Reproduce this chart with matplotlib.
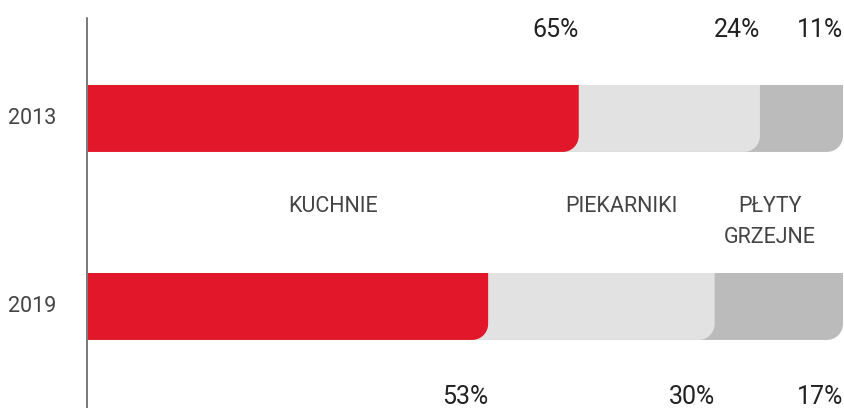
import numpy as np
import matplotlib
matplotlib.use("Agg")
import matplotlib.pyplot as plt
from matplotlib.path import Path
from matplotlib.patches import PathPatch

plt.rcParams['font.family'] = ['Roboto', 'DejaVu Sans']

# data
years = ["2013", "2019"]
categories = ["KUCHNIE", "PIEKARNIKI", "PŁYTY\nGRZEJNE"]
shares = {
    "2013": [65, 24, 11],
    "2019": [53, 30, 17],
}
colors = ["#E3172A", "#E2E2E2", "#BBBBBB"]

# layout (in data units: x = percent, y = bar index)
cat_label_x = [32.5, 70.7, 90.3]
cat_label_y = 0.415
bar_h = 0.356
radius_px = 16

fig = plt.figure(figsize=(8.45, 4.08), dpi=100)
ax = fig.add_axes([88 / 845, 0, 755 / 845, 1])
ax.set_xlim(0, 100)
ax.set_ylim(1.540, -0.630)
ax.axis('off')

# pixel -> data scale for the rounded corner
px_x = 100 / 755.0
px_y = 2.170 / 408.0
rx = radius_px * px_x
ry = radius_px * px_y
k = 0.5523


def rounded_bar(x1, yc, h, color):
    # bar from 0 to x1, only bottom-right corner rounded
    top = yc - h / 2
    bot = yc + h / 2
    verts = [
        (0, top),
        (x1, top),
        (x1, bot - ry),
        (x1, bot - ry + k * ry),
        (x1 - rx + k * rx, bot),
        (x1 - rx, bot),
        (0, bot),
        (0, top),
    ]
    codes = [Path.MOVETO, Path.LINETO, Path.LINETO,
             Path.CURVE4, Path.CURVE4, Path.CURVE4,
             Path.LINETO, Path.CLOSEPOLY]
    ax.add_patch(PathPatch(Path(verts, codes), facecolor=color,
                           edgecolor='none', zorder=2))


for i, yr in enumerate(years):
    vals = shares[yr]
    cum = np.cumsum(vals)
    # draw from the last segment back so each rounded corner overlaps the next
    for j in reversed(range(len(vals))):
        rounded_bar(cum[j], i, bar_h, colors[j])
    # percentage labels, right aligned at the end of each segment
    ty = i - 0.47 if i == 0 else i + 0.48
    for j, v in enumerate(vals):
        ax.text(cum[j], ty, f"{v}%", ha='right', va='center',
                fontsize=18, color='#222222')
    ax.text(-4.2, i, yr, ha='right', va='center', fontsize=15.5,
            color='#444444')

for name, x in zip(categories, cat_label_x):
    ax.text(x, cat_label_y, name, ha='center', va='top', fontsize=15.5,
            color='#444444', linespacing=1.6)

# vertical axis line
ax.plot([-0.15, -0.15], [-0.535, 1.54], color='#555555', lw=1.1,
        zorder=3, clip_on=False)

fig.savefig("out.png", dpi=100)
